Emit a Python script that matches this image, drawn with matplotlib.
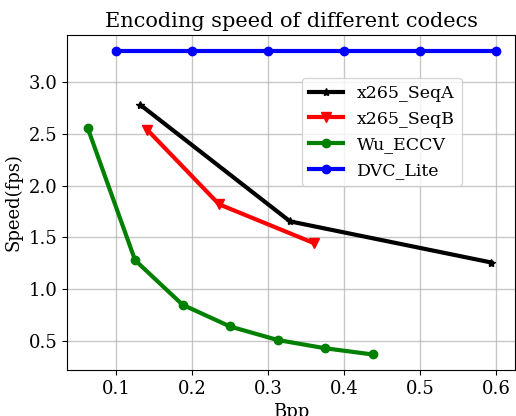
import matplotlib
matplotlib.use("Agg")
import matplotlib.pyplot as plt

plt.rcParams['font.family'] = ['DejaVu Serif']

seqA_x = [0.132, 0.329, 0.594]
seqA_y = [2.78, 1.655, 1.258]
seqB_x = [0.141, 0.2355, 0.3605]
seqB_y = [2.54, 1.82, 1.445]
wu_x = [0.0625, 0.125, 0.1875, 0.25, 0.3125, 0.375, 0.4375]
wu_y = [2.56, 1.28, 0.85, 0.64, 0.51, 0.43, 0.37]
dvc_x = [0.1, 0.2, 0.3, 0.4, 0.5, 0.6]
dvc_y = [3.30, 3.30, 3.30, 3.30, 3.30, 3.30]

fig = plt.figure(figsize=(5.16, 4.16), dpi=100)
ax = fig.add_axes([0.130, 0.1106, 0.868, 0.805])
ax.plot(seqA_x, seqA_y, color='black', marker='*', lw=3, ms=6, label='x265_SeqA')
ax.plot(seqB_x, seqB_y, color='red', marker='v', lw=3, ms=7, label='x265_SeqB')
ax.plot(wu_x, wu_y, color='green', marker='o', lw=3, ms=6, label='Wu_ECCV')
ax.plot(dvc_x, dvc_y, color='blue', marker='o', lw=3, ms=6, label='DVC_Lite')
ax.set_xlim(0.0355, 0.625)
ax.set_ylim(0.22, 3.454)
ax.set_xticks([0.1, 0.2, 0.3, 0.4, 0.5, 0.6])
ax.set_yticks([0.5, 1.0, 1.5, 2.0, 2.5, 3.0])
ax.grid(True, color='#b0b0b0', lw=1, alpha=0.7)
ax.tick_params(labelsize=13)
ax.set_xlabel('Bpp', fontsize=13)
ax.set_ylabel('Speed(fps)', fontsize=13)
ax.set_title('Encoding speed of different codecs', fontsize=15)
ax.legend(loc='upper right', bbox_to_anchor=(0.901, 0.898), fontsize=12.5)
fig.savefig('out.png', dpi=100)
